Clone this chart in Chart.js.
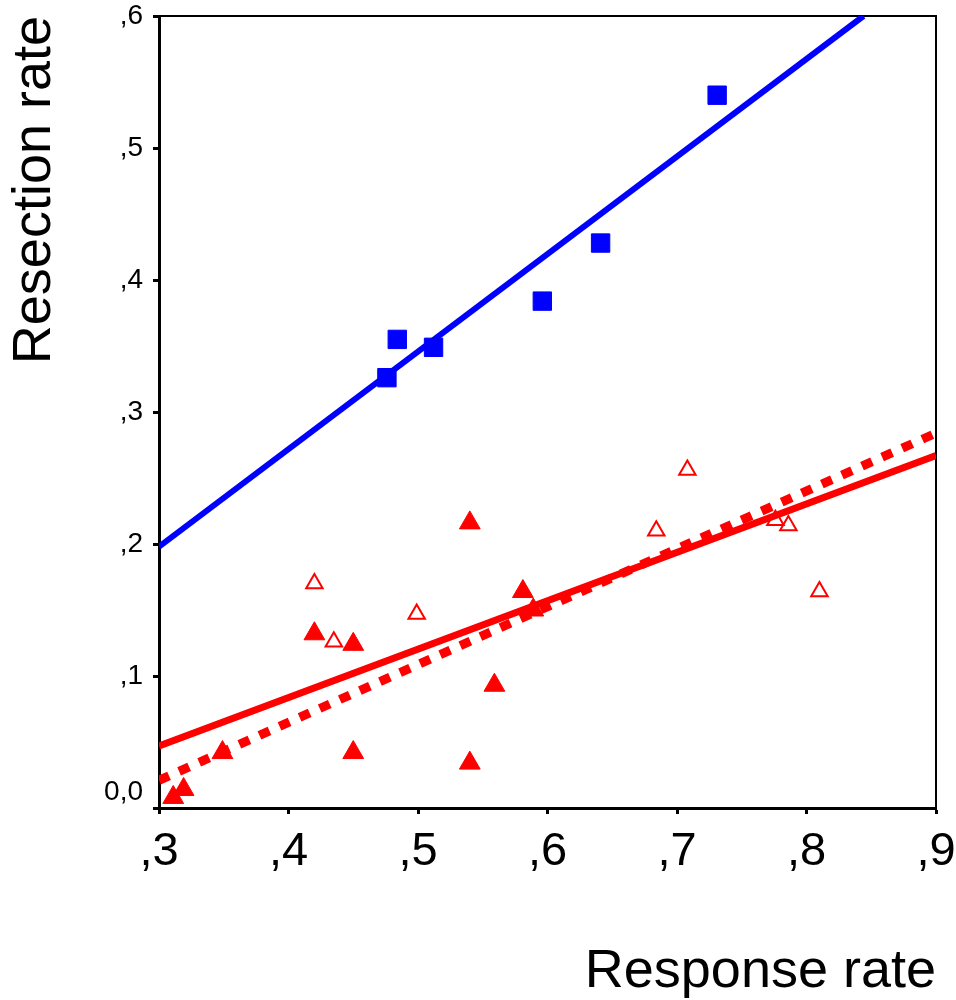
<!DOCTYPE html>
<html><head><meta charset="utf-8">
<script src="https://cdn.jsdelivr.net/npm/chart.js@4.4.1/dist/chart.umd.min.js"></script>
<style>html,body{margin:0;padding:0;background:#fff;}canvas{display:block;}</style>
</head><body>
<canvas id="c" width="956" height="1000"></canvas>
<script>
// ---- data ----
const xTickLabels = [',3', ',4', ',5', ',6', ',7', ',8', ',9'];
const yTickLabels = ['0,0', ',1', ',2', ',3', ',4', ',5', ',6'];

// blue squares
const blueResponse  = [0.476, 0.484, 0.512, 0.596, 0.641, 0.731];
const blueResection = [0.326, 0.355, 0.349, 0.384, 0.428, 0.540];
// red filled triangles
const redFilledResponse  = [0.311, 0.319, 0.349, 0.420, 0.450, 0.450, 0.540, 0.540, 0.559, 0.581, 0.589];
const redFilledResection = [0.008, 0.014, 0.042, 0.132, 0.124, 0.042, 0.216, 0.034, 0.093, 0.164, 0.150];
// red open triangles
const redOpenResponse  = [0.420, 0.435, 0.499, 0.684, 0.708, 0.776, 0.786, 0.810];
const redOpenResection = [0.170, 0.126, 0.147, 0.210, 0.256, 0.218, 0.214, 0.164];
// fit lines (end points)
const blueFitX = [0.3, 0.844];
const blueFitY = [0.198, 0.600];
const redSolidFitX = [0.3, 0.9];
const redSolidFitY = [0.047, 0.267];
const redDottedFitX = [0.3, 0.9];
const redDottedFitY = [0.021, 0.284];

const pts = (xs, ys) => xs.map((x, i) => ({x: x, y: ys[i]}));
const FONT = "'Liberation Sans', Arial, sans-serif";
const RED = '#ff0000', BLUE = '#0000ff';
const noPad = s => { s.paddingLeft = 0; s.paddingRight = 0; s.paddingTop = 0; s.paddingBottom = 0; };

new Chart(document.getElementById('c'), {
  type: 'scatter',
  data: {
    datasets: [
      { label: 'blue', data: pts(blueResponse, blueResection), order: 0,
        pointStyle: 'rect', pointRadius: 13, borderWidth: 1,
        backgroundColor: BLUE, borderColor: BLUE },
      { label: 'blue fit', data: pts(blueFitX, blueFitY), order: 1, showLine: true,
        pointRadius: 0, borderColor: BLUE, borderWidth: 6 },
      { label: 'red fit', data: pts(redSolidFitX, redSolidFitY), order: 2, showLine: true,
        pointRadius: 0, borderColor: RED, borderWidth: 7 },
      { label: 'red fit dotted', data: pts(redDottedFitX, redDottedFitY), order: 3, showLine: true,
        pointRadius: 0, borderColor: RED, borderWidth: 9, borderDash: [11, 11], borderCapStyle: 'butt' },
      { label: 'red filled', data: pts(redFilledResponse, redFilledResection), order: 4,
        pointStyle: 'triangle', pointRadius: 12, borderWidth: 1,
        backgroundColor: RED, borderColor: RED },
      { label: 'red open', data: pts(redOpenResponse, redOpenResection), order: 5,
        pointStyle: 'triangle', pointRadius: 9.5, borderWidth: 2,
        backgroundColor: 'rgba(255,255,255,0)', borderColor: RED }
    ]
  },
  options: {
    responsive: false,
    animation: false,
    events: [],
    layout: { padding: { top: 16, right: 20, bottom: 0, left: 0 } },
    plugins: { legend: { display: false }, tooltip: { enabled: false } },
    scales: {
      x: {
        type: 'linear', position: 'bottom', min: 0.3, max: 0.9,
        afterFit: s => { s.height = 192; noPad(s); },
        ticks: { stepSize: 0.1, autoSkip: false, maxRotation: 0, color: '#000', padding: 10,
          font: { family: FONT, size: 47 },
          callback: (v, i) => xTickLabels[i] },
        grid: { drawOnChartArea: false, drawTicks: true, tickLength: 6, tickWidth: 3, tickColor: '#000' },
        border: { display: true, color: '#000', width: 3 },
        title: { display: true, text: 'Response rate', align: 'end', color: '#000',
          font: { family: FONT, size: 54, lineHeight: 1 }, padding: { top: 0, bottom: 1 } }
      },
      y: {
        type: 'linear', position: 'left', min: 0, max: 0.6,
        afterFit: s => { s.width = 159; noPad(s); },
        ticks: { stepSize: 0.1, autoSkip: false, color: '#000', padding: 10,
          font: { family: FONT, size: 28, lineHeight: 1.1 },
          callback: (v, i) => (i === 0 ? [yTickLabels[i], ''] : yTickLabels[i]) },
        grid: { drawOnChartArea: false, drawTicks: true, tickLength: 6, tickWidth: 3, tickColor: '#000' },
        border: { display: true, color: '#000', width: 3 },
        title: { display: true, text: 'Resection rate', align: 'end', color: '#000',
          font: { family: FONT, size: 54, lineHeight: 1 }, padding: { top: 8, bottom: 0 } }
      },
      xTop: {
        type: 'linear', position: 'top', min: 0, max: 1,
        afterFit: s => { s.height = 0; noPad(s); },
        ticks: { display: false },
        grid: { display: false, drawTicks: false },
        border: { display: true, color: '#000', width: 2 }
      },
      yRight: {
        type: 'linear', position: 'right', min: 0, max: 1,
        afterFit: s => { s.width = 0; noPad(s); },
        ticks: { display: false },
        grid: { display: false, drawTicks: false },
        border: { display: true, color: '#000', width: 2 }
      }
    }
  }
});
</script>
</body></html>
